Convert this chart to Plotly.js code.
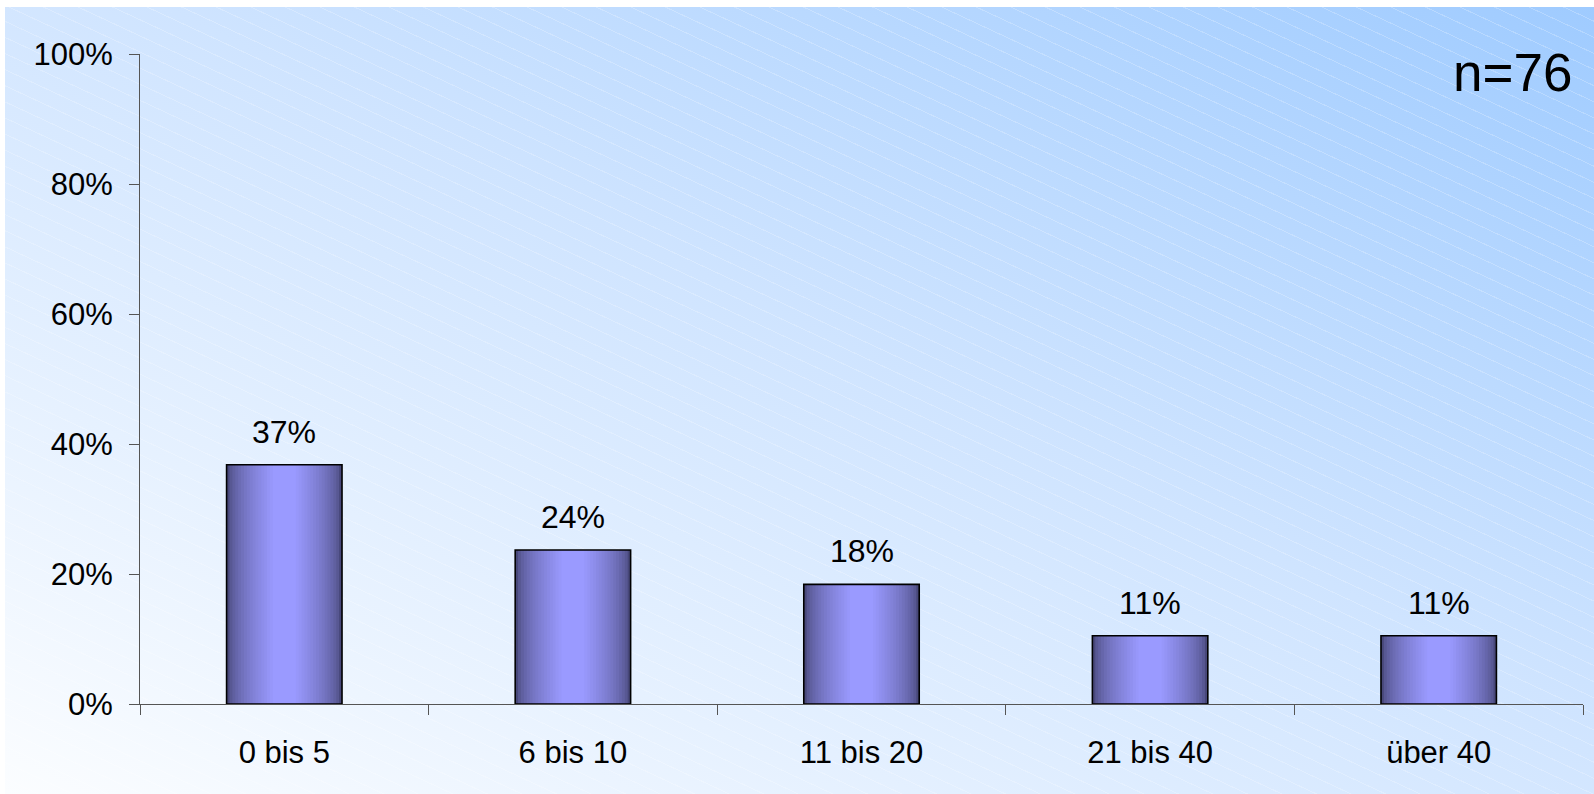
<!DOCTYPE html>
<html>
<head>
<meta charset="utf-8">
<script src="https://cdn.plot.ly/plotly-3.0.1.min.js"></script>
<style>
  html, body { margin: 0; padding: 0; background: #ffffff; width: 1594px; height: 794px; overflow: hidden; }
  #bg {
    position: absolute; left: 5px; top: 7px; right: 0; bottom: 0;
    background:
      repeating-linear-gradient(25deg, rgba(255,255,255,0) 0px, rgba(255,255,255,0) 13.6px, rgba(255,255,255,0.22) 13.6px, rgba(255,255,255,0.22) 14.6px),
      linear-gradient(to top right, #fbfdff 0%, #cfe4ff 55%, #9fcbff 100%);
  }
  #chart { position: absolute; left: 0; top: 0; width: 1594px; height: 794px; }
</style>
</head>
<body>
<div id="bg"></div>
<div id="chart"></div>
<script>
// ---- data ----
const categories = ['0 bis 5', '6 bis 10', '11 bis 20', '21 bis 40', 'über 40'];
const values = [36.8, 23.7, 18.4, 10.5, 10.5];
const valueLabels = ['37%', '24%', '18%', '11%', '11%'];
const yTickVals = [0, 20, 40, 60, 80, 100];
const yTickText = ['0%', '20%', '40%', '60%', '80%', '100%'];
const sampleNote = 'n=76';

// ---- style ----
const FONT = 'Liberation Sans, Arial, sans-serif';
const barWidth = 0.4;
const edgeColor = [72, 72, 122];
const centerColor = [154, 154, 255];
const layers = 16;

const traces = [];
for (let k = 0; k <= layers; k++) {
  const t = k / layers;
  const w = barWidth * (1 - 0.8 * t);
  const c = edgeColor.map((e, i) => Math.round(e + (centerColor[i] - e) * Math.pow(t, 0.6)));
  traces.push({
    type: 'bar', x: categories, y: values, width: w,
    marker: { color: `rgb(${c[0]},${c[1]},${c[2]})`, line: { width: 0 } },
    hoverinfo: 'skip', showlegend: false
  });
}
// outline on top
traces.push({
  type: 'bar', x: categories, y: values, width: barWidth,
  marker: { color: 'rgba(0,0,0,0)', line: { width: 1.6, color: '#000000' } },
  hoverinfo: 'skip', showlegend: false
});

const annotations = categories.map((c, i) => ({
  x: c, y: values[i], xref: 'x', yref: 'y', text: valueLabels[i],
  showarrow: false, yanchor: 'bottom', yshift: 13,
  font: { family: FONT, size: 32, color: '#000000' }
}));
annotations.push({
  xref: 'paper', yref: 'paper', x: 0.9935, y: 0.972, xanchor: 'right', yanchor: 'middle',
  text: sampleNote, showarrow: false, font: { family: FONT, size: 53, color: '#000000' }
});

const layout = {
  width: 1594, height: 794,
  paper_bgcolor: 'rgba(0,0,0,0)', plot_bgcolor: 'rgba(0,0,0,0)',
  margin: { l: 140, r: 11, t: 54, b: 90 },
  barmode: 'overlay',
  font: { family: FONT, size: 31, color: '#000000' },
  xaxis: {
    type: 'category', tickson: 'boundaries', ticks: 'outside', ticklen: 10, tickwidth: 1, tickcolor: '#555555',
    showline: true, linecolor: '#555555', linewidth: 1, showgrid: false, zeroline: false,
    ticklabelstandoff: 21,
    tickfont: { family: FONT, size: 31, color: '#000000' }, fixedrange: true
  },
  yaxis: {
    range: [0, 100], tickvals: yTickVals, ticktext: yTickText,
    ticks: 'outside', ticklen: 10, tickwidth: 1, tickcolor: '#555555',
    showline: true, linecolor: '#555555', linewidth: 1, showgrid: false, zeroline: false,
    ticklabelstandoff: 10,
    tickfont: { family: FONT, size: 31, color: '#000000' }, fixedrange: true
  },
  annotations: annotations
};

Plotly.newPlot('chart', traces, layout, { displayModeBar: false, staticPlot: true });
</script>
</body>
</html>
